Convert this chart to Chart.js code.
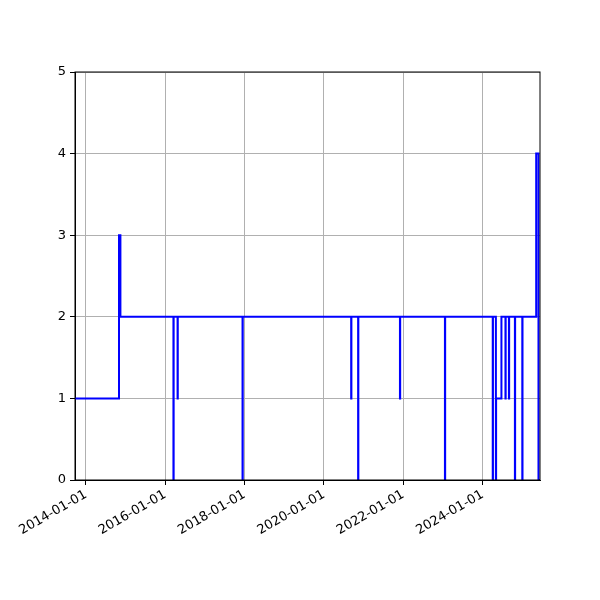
<!DOCTYPE html>
<html>
<head>
<meta charset="utf-8">
<script src="https://cdn.jsdelivr.net/npm/chart.js@4.4.1/dist/chart.umd.min.js"></script>
<style>
  html, body { margin: 0; padding: 0; background: #fff; }
  #wrap { width: 600px; height: 600px; position: relative; }
</style>
</head>
<body>
<div id="wrap"><canvas id="chart"></canvas></div>
<script>
// step changes: date the level changes, new level
const changeDates = [
  "2013-09-23", "2014-11-02", "2014-11-15", "2016-03-17", "2016-03-19",
  "2016-04-24", "2016-04-26", "2017-12-13", "2017-12-15", "2020-09-08",
  "2020-09-10", "2020-11-11", "2020-11-13", "2021-12-01", "2021-12-03",
  "2023-01-19", "2023-01-21", "2024-04-03", "2024-04-05", "2024-05-02",
  "2024-05-04", "2024-06-22", "2024-07-29", "2024-07-31", "2024-08-30",
  "2024-09-01", "2024-10-24", "2024-10-26", "2024-12-31", "2025-01-02",
  "2025-05-08", "2025-05-29", "2025-06-12",
];
const levels = [
  1, 3, 2, 0, 2,
  1, 2, 0, 2, 1,
  2, 0, 2, 1, 2,
  0, 2, 0, 2, 0,
  1, 2, 1, 2, 1,
  2, 0, 2, 0, 2,
  4, 0, 0,
];
const tickDates = ["2014-01-01", "2016-01-01", "2018-01-01", "2020-01-01", "2022-01-01", "2024-01-01"];
const yTicks = [0, 1, 2, 3, 4, 5];

const toMs = (s) => Date.parse(s + "T00:00:00Z");
const fmt = (ms) => new Date(ms).toISOString().slice(0, 10);

const points = changeDates.map((d, i) => ({ x: toMs(d), y: levels[i] }));

const frame = {
  id: "frame",
  afterDatasetsDraw(chart) {
    const { ctx, chartArea: a } = chart;
    ctx.save();
    ctx.strokeStyle = "#000";
    ctx.lineWidth = 1;
    ctx.strokeRect(a.left, a.top, a.right - a.left, a.bottom - a.top);
    ctx.restore();
  },
};

Chart.defaults.font.family = "'DejaVu Sans', sans-serif";
Chart.defaults.font.size = 13;
Chart.defaults.color = "#000";

new Chart(document.getElementById("chart"), {
  type: "line",
  data: {
    datasets: [
      {
        data: points,
        borderColor: "#0000ff",
        borderWidth: 2,
        pointRadius: 0,
        stepped: "before",
        fill: false,
      },
    ],
  },
  options: {
    animation: false,
    responsive: true,
    maintainAspectRatio: false,
    layout: { padding: { top: 72, right: 60, left: 0, bottom: 0 } },
    plugins: { legend: { display: false }, tooltip: { enabled: false } },
    scales: {
      x: {
        type: "linear",
        min: points[0].x,
        max: points[points.length - 1].x,
        afterBuildTicks(scale) {
          scale.ticks = tickDates.map((d) => ({ value: toMs(d) }));
        },
        afterFit(scale) {
          scale.height = 120;
        },
        grid: { color: "#b0b0b0", lineWidth: 1, tickColor: "#000", tickLength: 5 },
        border: { color: "#000" },
        ticks: {
          minRotation: 30,
          maxRotation: 30,
          padding: 2,
          color: "#000",
          callback: (v) => fmt(v),
        },
      },
      y: {
        min: 0,
        max: 5,
        afterBuildTicks(scale) {
          scale.ticks = yTicks.map((v) => ({ value: v }));
        },
        afterFit(scale) {
          scale.width = 75;
        },
        grid: { color: "#b0b0b0", lineWidth: 1, tickColor: "#000", tickLength: 5 },
        border: { color: "#000" },
        ticks: { padding: 4, color: "#000" },
      },
    },
  },
  plugins: [frame],
});
</script>
</body>
</html>
